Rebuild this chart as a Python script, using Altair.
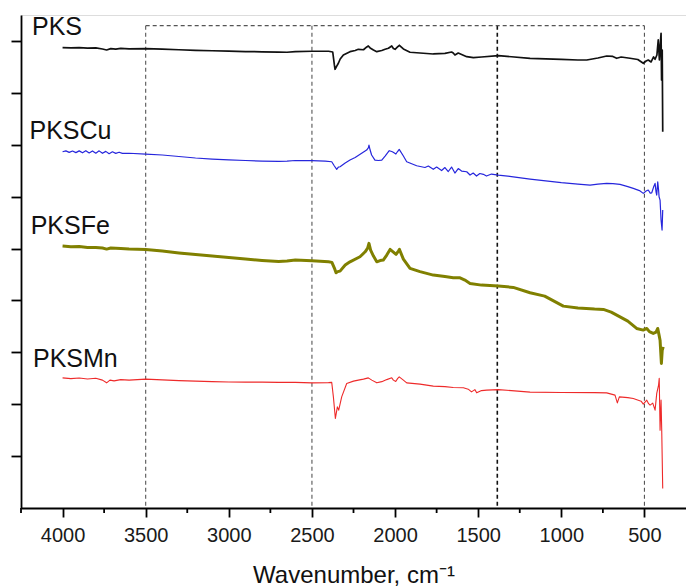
import altair as alt
import pandas as pd

# FTIR spectra (offset for clarity), wavenumber in cm-1 and intensity in a.u.
pks_w = [4000, 3950, 3900, 3850, 3800, 3760, 3735, 3710, 3680, 3650, 3600, 3500, 3400, 3300,
         3200, 3100, 3000, 2900, 2800, 2700, 2650, 2600, 2500, 2400, 2375, 2365, 2361, 2350,
         2341, 2330, 2311, 2271, 2240, 2221, 2190, 2170, 2161, 2150, 2130, 2110, 2080, 2060,
         2040, 2020, 2010, 2000, 1985, 1974, 1950, 1910, 1850, 1770, 1700, 1660, 1650, 1640,
         1620, 1569, 1529, 1480, 1379, 1300, 1188, 1000, 900, 847, 780, 727, 690, 667, 640,
         587, 540, 507, 490, 477, 460, 445, 436, 425, 417, 410, 405, 400, 397, 393, 390]
pks_v = [8.870, 8.865, 8.872, 8.861, 8.865, 8.845, 8.826, 8.853, 8.841, 8.857, 8.849, 8.851,
         8.841, 8.830, 8.820, 8.811, 8.803, 8.795, 8.791, 8.784, 8.782, 8.793, 8.801, 8.801,
         8.787, 8.537, 8.454, 8.518, 8.570, 8.652, 8.730, 8.793, 8.816, 8.839, 8.830, 8.884,
         8.903, 8.865, 8.826, 8.793, 8.816, 8.839, 8.859, 8.903, 8.855, 8.839, 8.884, 8.917,
         8.845, 8.782, 8.768, 8.749, 8.759, 8.787, 8.768, 8.730, 8.768, 8.697, 8.678, 8.691,
         8.716, 8.695, 8.666, 8.643, 8.633, 8.633, 8.672, 8.710, 8.701, 8.666, 8.691, 8.666,
         8.643, 8.570, 8.614, 8.633, 8.595, 8.691, 8.647, 8.730, 9.019, 8.633, 8.922, 9.148,
         8.248, 8.826, 7.251]

cu_w = [4000, 3980, 3960, 3940, 3920, 3900, 3880, 3860, 3840, 3820, 3800, 3780, 3760, 3740,
        3720, 3700, 3680, 3660, 3640, 3600, 3500, 3400, 3300, 3200, 3100, 3000, 2900, 2800,
        2700, 2650, 2600, 2500, 2420, 2381, 2365, 2351, 2341, 2331, 2300, 2271, 2240, 2201,
        2171, 2160, 2157, 2150, 2141, 2121, 2100, 2080, 2060, 2035, 2020, 2011, 1995, 1985,
        1975, 1950, 1930, 1870, 1820, 1800, 1770, 1750, 1720, 1700, 1680, 1660, 1650, 1640,
        1620, 1600, 1569, 1549, 1530, 1510, 1490, 1469, 1450, 1420, 1379, 1300, 1188, 1000,
        900, 827, 780, 727, 690, 647, 600, 567, 530, 507, 490, 477, 465, 456, 445, 436, 430,
        426, 420, 415, 412, 406, 400, 394, 390]
cu_v = [6.865, 6.882, 6.852, 6.878, 6.848, 6.882, 6.845, 6.885, 6.842, 6.880, 6.838, 6.882,
        6.834, 6.872, 6.828, 6.864, 6.834, 6.856, 6.834, 6.836, 6.821, 6.802, 6.773, 6.744,
        6.724, 6.709, 6.696, 6.686, 6.680, 6.686, 6.696, 6.692, 6.686, 6.672, 6.590, 6.526,
        6.570, 6.576, 6.647, 6.705, 6.753, 6.834, 6.898, 6.946, 6.994, 6.898, 6.802, 6.705,
        6.696, 6.705, 6.782, 6.885, 6.869, 6.854, 6.821, 6.869, 6.911, 6.782, 6.672, 6.595,
        6.561, 6.590, 6.526, 6.570, 6.503, 6.561, 6.484, 6.570, 6.512, 6.455, 6.541, 6.493,
        6.480, 6.416, 6.455, 6.397, 6.445, 6.430, 6.397, 6.435, 6.416, 6.387, 6.339, 6.271,
        6.242, 6.223, 6.242, 6.255, 6.251, 6.236, 6.194, 6.159, 6.117, 6.063, 6.107, 6.127,
        6.069, 6.074, 6.184, 6.255, 6.088, 6.030, 6.287, 6.127, 5.998, 5.934, 5.549, 5.356,
        5.742]

fe_w = [4000, 3950, 3900, 3850, 3800, 3760, 3735, 3710, 3650, 3600, 3500, 3400, 3300, 3200,
        3100, 3000, 2900, 2800, 2700, 2650, 2600, 2500, 2400, 2380, 2365, 2355, 2345, 2331,
        2300, 2271, 2211, 2180, 2165, 2157, 2147, 2130, 2110, 2090, 2071, 2050, 2030, 2010,
        1994, 1980, 1974, 1950, 1910, 1850, 1770, 1700, 1650, 1609, 1580, 1549, 1480, 1379,
        1289, 1188, 1100, 988, 900, 800, 747, 700, 647, 600, 547, 507, 486, 470, 447, 430,
        420, 412, 406, 398, 393, 387]
fe_v = [5.047, 5.032, 5.037, 5.018, 5.022, 5.009, 4.989, 5.009, 4.999, 4.989, 4.983, 4.951,
        4.916, 4.883, 4.854, 4.825, 4.796, 4.771, 4.752, 4.758, 4.777, 4.764, 4.744, 4.733,
        4.623, 4.532, 4.555, 4.565, 4.681, 4.744, 4.841, 4.937, 5.009, 5.099, 4.970, 4.854,
        4.744, 4.768, 4.777, 4.874, 4.983, 4.931, 4.887, 4.951, 4.983, 4.796, 4.617, 4.555,
        4.488, 4.459, 4.436, 4.436, 4.392, 4.328, 4.295, 4.276, 4.251, 4.147, 4.083, 3.890,
        3.852, 3.833, 3.827, 3.775, 3.684, 3.601, 3.460, 3.428, 3.460, 3.398, 3.363, 3.388,
        3.460, 3.331, 3.234, 2.785, 3.041, 3.104]

mn_w = [4000, 3950, 3900, 3850, 3800, 3760, 3735, 3715, 3690, 3650, 3600, 3500, 3400, 3300,
        3200, 3100, 3000, 2900, 2800, 2700, 2600, 2500, 2400, 2381, 2371, 2359, 2347, 2339,
        2321, 2291, 2250, 2221, 2190, 2161, 2140, 2110, 2080, 2050, 2020, 2010, 1996, 1985,
        1975, 1950, 1930, 1850, 1770, 1700, 1650, 1589, 1560, 1540, 1520, 1509, 1480, 1449,
        1379, 1300, 1188, 1000, 800, 727, 677, 663, 651, 600, 567, 520, 507, 486, 475, 466,
        450, 436, 426, 415, 411, 406, 400, 396, 390]
mn_v = [2.508, 2.493, 2.506, 2.487, 2.499, 2.464, 2.412, 2.464, 2.449, 2.474, 2.464, 2.483,
        2.468, 2.454, 2.445, 2.435, 2.429, 2.425, 2.425, 2.420, 2.420, 2.412, 2.416, 2.420,
        2.142, 1.726, 1.949, 1.886, 2.142, 2.400, 2.445, 2.464, 2.483, 2.508, 2.464, 2.412,
        2.435, 2.474, 2.508, 2.464, 2.439, 2.493, 2.528, 2.464, 2.412, 2.387, 2.348, 2.339,
        2.323, 2.316, 2.290, 2.238, 2.281, 2.219, 2.262, 2.271, 2.281, 2.262, 2.233, 2.227,
        2.223, 2.219, 2.175, 2.026, 2.142, 2.127, 2.111, 2.059, 2.002, 2.078, 2.011, 1.982,
        2.021, 1.886, 2.208, 2.368, 2.497, 1.500, 2.078, 1.500, 0.374]

series_names = ["PKS", "PKSCu", "PKSFe", "PKSMn"]
series_colors = ["#111111", "#2626dc", "#808000", "#ee2a2a"]
series_widths = [1.7, 1.2, 3.0, 1.1]

# label anchors (wavenumber, intensity) for each trace name
label_w = [4184, 4199, 4192, 4178]
label_v = [9.115, 7.120, 5.273, 2.720]

# dashed guide box and region separators
guide_w = [3500, 2500, 1385, 500]
guide_top = 9.295

major_ticks = [4000, 3500, 3000, 2500, 2000, 1500, 1000, 500]
minor_ticks = [4250, 3750, 3250, 2750, 2250, 1750, 1250, 750]
y_ticks = [1, 2, 3, 4, 5, 6, 7, 8, 9]

FONT = "Liberation Sans"

series_data = [(pks_w, pks_v), (cu_w, cu_v), (fe_w, fe_v), (mn_w, mn_v)]

labels = pd.DataFrame({"series": series_names, "w": label_w, "v": label_v})
guides = pd.DataFrame({"w": guide_w, "top": guide_top, "bottom": 0.0,
                       "heavy": [False, False, True, False]})
top_edge = pd.DataFrame({"w": [guide_w[0]], "w2": [guide_w[-1]], "top": [guide_top]})
minor = pd.DataFrame({"w": minor_ticks})

x_scale = alt.Scale(domain=[4250, 250], nice=False, zero=False)
y_scale = alt.Scale(domain=[0, 9.5], nice=False, zero=False)

x_axis = alt.Axis(
    values=major_ticks, format="d", tickSize=9, tickWidth=1.8, tickColor="#000",
    domainColor="#000", domainWidth=1.8, labelFont=FONT, labelFontSize=20,
    labelColor="#1a1a1a", labelPadding=8, grid=False,
    title="Wavenumber, cm⁻¹", titleFont=FONT, titleFontSize=24,
    titleFontWeight="normal", titleColor="#111", titleX=332.5, titleY=74,
    titleBaseline="alphabetic", titleAnchor="middle", labelFlush=False,
)
y_axis = alt.Axis(
    values=y_ticks, labels=False, title=None, tickSize=10, tickWidth=1.8,
    tickColor="#000", domainColor="#000", domainWidth=1.8, grid=False,
)

vrules = alt.Chart(guides).mark_rule(strokeDash=[4, 3]).encode(
    x=alt.X("w:Q", scale=x_scale, axis=x_axis),
    y=alt.Y("top:Q", scale=y_scale, axis=y_axis),
    y2="bottom:Q",
    color=alt.condition("datum.heavy", alt.value("#111"), alt.value("#555")),
    strokeWidth=alt.condition("datum.heavy", alt.value(1.6), alt.value(1.1)),
)

hrule = alt.Chart(top_edge).mark_rule(strokeDash=[4, 3], color="#555", strokeWidth=1.1).encode(
    x="w:Q", x2="w2:Q", y="top:Q",
)

# one line layer per spectrum so each keeps its own colour and stroke weight
line_layers = []
for name, color, width, (ws, vs) in zip(series_names, series_colors, series_widths, series_data):
    df = pd.DataFrame({"w": ws, "v": vs, "series": name})
    line_layers.append(
        alt.Chart(df).mark_line(color=color, strokeWidth=width, strokeJoin="round").encode(
            x="w:Q", y="v:Q",
        )
    )

minor_marks = alt.Chart(minor).mark_rule(color="#000", strokeWidth=1.8).encode(
    x="w:Q", y=alt.value(493), y2=alt.value(498),
)

names = alt.Chart(labels).mark_text(
    align="left", baseline="alphabetic", font=FONT, fontSize=25, color="#111",
).encode(x="w:Q", y="v:Q", text="series:N")

chart = alt.layer(vrules, hrule, *line_layers, minor_marks, names).properties(
    width=665, height=493,
    autosize=alt.AutoSizeParams(type="none"),
    padding={"left": 21, "top": 15, "right": 0, "bottom": 80},
).configure_view(strokeWidth=0).configure(background="white")

chart.save("out.html", embed_options={"renderer": "svg", "actions": False})
